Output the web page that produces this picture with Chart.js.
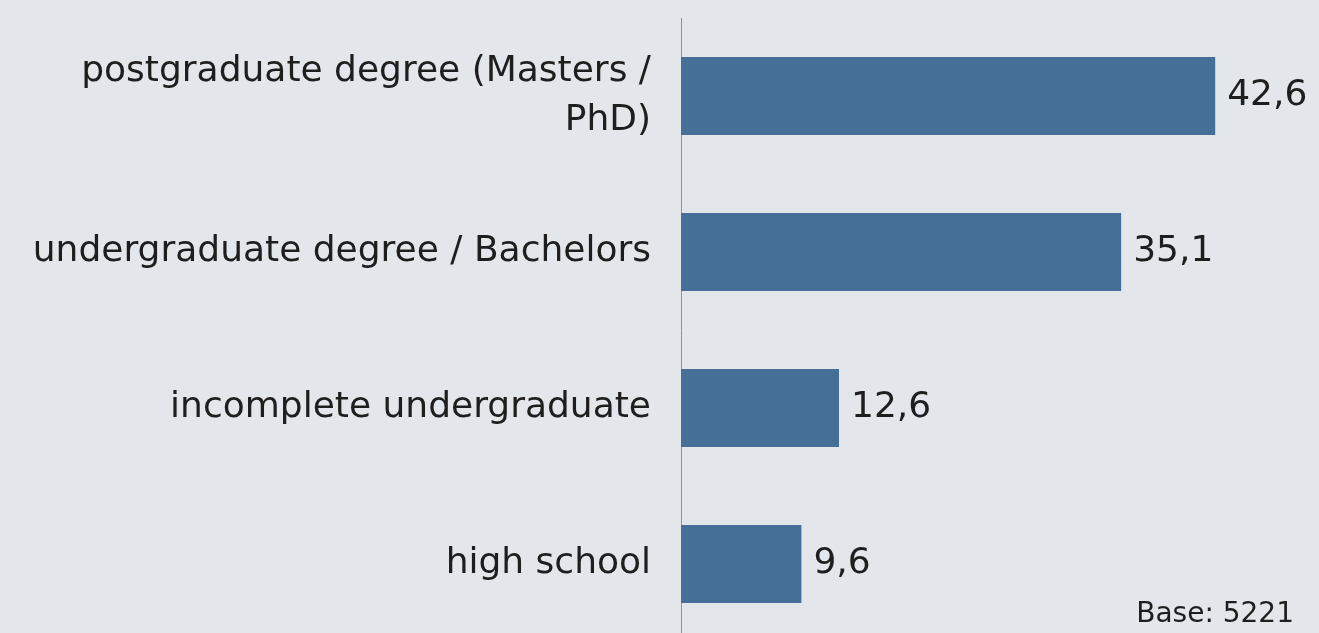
<!DOCTYPE html>
<html>
<head>
<meta charset="utf-8">
<script src="https://cdn.jsdelivr.net/npm/chart.js@4"></script>
<style>
  html, body { margin: 0; padding: 0; background: #e3e7ec; overflow: hidden; }
  #wrap { position: absolute; left: 0; top: 0; width: 1319px; height: 660px; }
</style>
</head>
<body>
<div id="wrap"><canvas id="barchart"></canvas></div>
<script>
const categories = [
  ["postgraduate degree (Masters /", "PhD)"],
  "undergraduate degree / Bachelors",
  "incomplete undergraduate",
  "high school"
];
const shares = [42.6, 35.1, 12.6, 9.6];
const baseNote = "Base: 5221";

const FONT = "'DejaVu Sans', Verdana, sans-serif";

const valueLabels = {
  id: "valueLabels",
  afterDatasetsDraw(chart) {
    const ctx = chart.ctx;
    const meta = chart.getDatasetMeta(0);
    ctx.save();
    ctx.font = "36px " + FONT;
    ctx.fillStyle = "#1e1e1e";
    ctx.textAlign = "left";
    ctx.textBaseline = "middle";
    meta.data.forEach((bar, i) => {
      ctx.fillText(shares[i].toFixed(1).replace(".", ","), bar.x + 12, bar.y);
    });
    ctx.font = "28px " + FONT;
    ctx.textAlign = "right";
    ctx.textBaseline = "alphabetic";
    ctx.fillText(baseNote, 1294, 622);
    ctx.restore();
  }
};

new Chart(document.getElementById("barchart"), {
  type: "bar",
  data: {
    labels: categories,
    datasets: [{
      data: shares,
      backgroundColor: "#466f97",
      categoryPercentage: 0.5,
      barPercentage: 1
    }]
  },
  options: {
    indexAxis: "y",
    responsive: true,
    maintainAspectRatio: false,
    animation: false,
    layout: { padding: { top: 18, right: 11, bottom: 18, left: 0 } },
    plugins: { legend: { display: false }, tooltip: { enabled: false } },
    scales: {
      x: { display: false, min: 0, max: 50 },
      y: {
        grid: { display: false, drawTicks: false },
        border: { display: true, color: "#8d9095", width: 1 },
        ticks: {
          color: "#1e1e1e",
          padding: 30,
          font: { family: FONT, size: 36, lineHeight: 1.35 }
        },
        afterFit(scale) {
          scale.width = 681;
          scale.paddingTop = 0;
          scale.paddingBottom = 0;
        }
      }
    }
  },
  plugins: [valueLabels]
});
</script>
</body>
</html>
